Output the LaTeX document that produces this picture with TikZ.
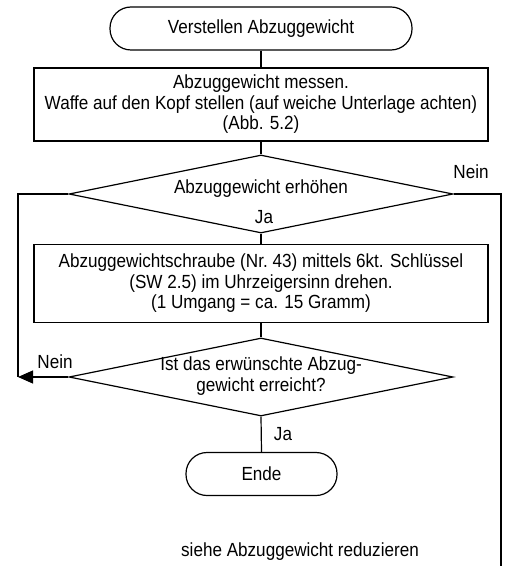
\documentclass[tikz,border=0pt]{standalone}
\usepackage{fontspec}
\setmainfont{Liberation Sans}[FakeStretch=0.9]
\usetikzlibrary{shapes.geometric, arrows.meta}
\tikzset{
  txt/.style={font=\fontsize{19}{20.5}\selectfont, inner sep=0pt, align=center},
  term/.style={draw, rectangle, rounded corners=21pt, minimum height=43pt, inner sep=0pt},
  proc/.style={draw, rectangle, minimum width=454pt, inner sep=0pt},
  dia/.style={draw, diamond, minimum width=384pt, minimum height=78pt, inner sep=0pt},
  conn/.style={line width=1.2pt},
  arr/.style={line width=1.2pt, -{Triangle[length=15pt, width=13pt]}}
}
\begin{document}
\begin{tikzpicture}[x=1pt, y=-1pt, line width=1.2pt]
\useasboundingbox (0,0) rectangle (505,569);

% nodes
\node[term, minimum width=302pt] (start) at (261,28.5) {};
\node[txt] (starttxt) at (start.center) {Verstellen Abzuggewicht};

\node[proc, minimum height=73pt] (box1) at (261,104.5) {};
\node[txt] (box1txt) at (box1.center) {Abzuggewicht messen.\\Waffe auf den Kopf stellen (auf weiche Unterlage achten)\\(Abb. 5.2)};

\node[dia] (d1) at (261,194) {};
\node[txt] (d1txt) at (261,189) {Abzuggewicht erhöhen};
\node[txt] (ja1) at (264,217) {Ja};

\node[proc, minimum height=78pt] (box2) at (261,283.5) {};
\node[txt] (box2txt) at (box2.center) {Abzuggewichtschraube (Nr.~43) mittels 6kt. Schlüssel\\(SW 2.5) im Uhrzeigersinn drehen.\\(1 Umgang = ca. 15 Gramm)};

\node[dia] (d2) at (261,377) {};
\node[txt] (d2txt) at (261,376) {Ist das erwünschte Abzug-\\gewicht erreicht?};

\node[term, minimum width=151pt] (ende) at (261.5,474) {};
\node[txt] (endetxt) at (ende.center) {Ende};
\node[txt] (ja2) at (283,434) {Ja};

\node[txt] (nein1) at (471,172) {Nein};
\node[txt] (nein2) at (55,362) {Nein};
\node[txt] (siehe) at (300,552) {siehe Abzuggewicht reduzieren};

% coordinates for connector corners
\coordinate (r1) at (501,194);
\coordinate (r2) at (501,566);
\coordinate (l1) at (18,194);
\coordinate (l2) at (18,377);

% connectors
\draw[conn] (start.south) -- (box1.north);
\draw[conn] (box1.south) -- (d1.north);
\draw[conn] (d1.south) -- (box2.north);
\draw[conn] (box2.south) -- (d2.north);
\draw[conn] (d2.south) -- (ende.north);
\draw[conn] (d1.east) -- (r1) -- (r2);
\draw[conn] (d1.west) -- (l1) -- (l2);
\draw[arr] (d2.west) -- (l2);
\end{tikzpicture}
\end{document}
